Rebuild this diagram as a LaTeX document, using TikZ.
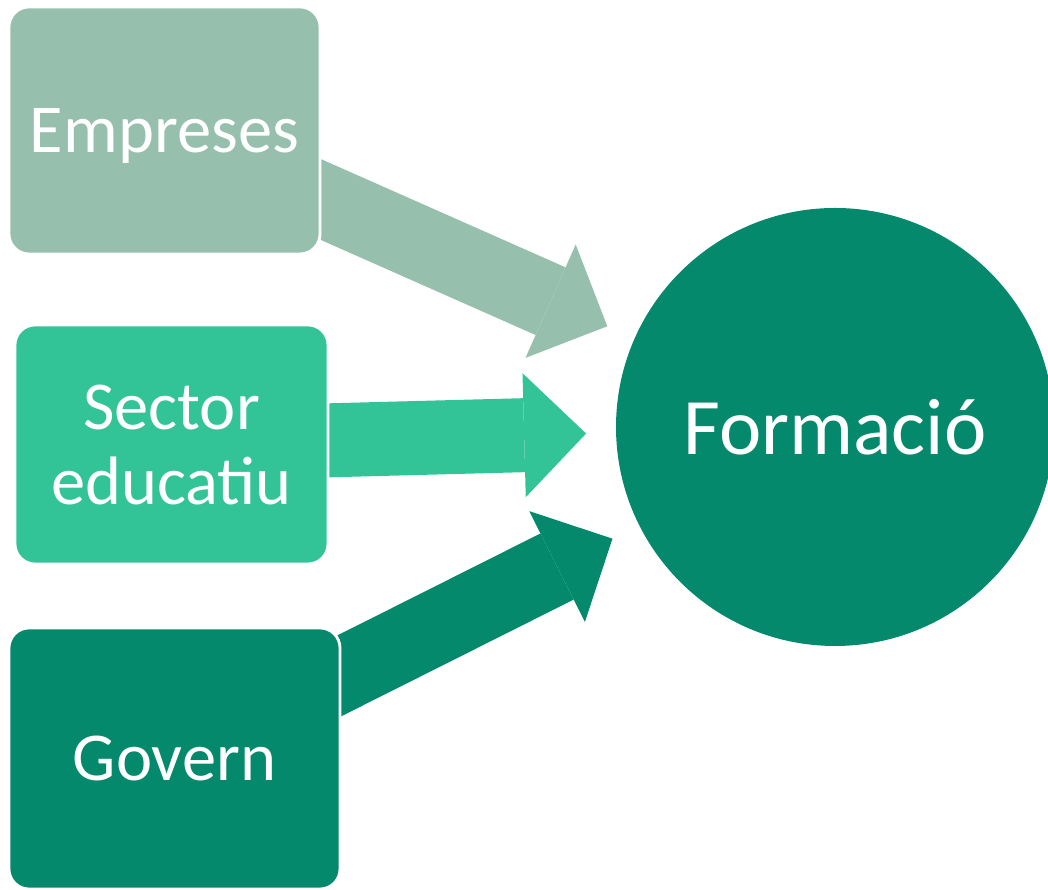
\documentclass[tikz,border=0pt]{standalone}
\usepackage{fontspec}
\setmainfont{Carlito}
\usetikzlibrary{arrows.meta,backgrounds}
\pgfdeclarelayer{edgelayer}
\pgfdeclarelayer{nodelayer}
\pgfsetlayers{background,edgelayer,nodelayer,main}
\definecolor{paleteal}{RGB}{150,191,174}
\definecolor{midteal}{RGB}{50,195,150}
\definecolor{deepteal}{RGB}{4,137,108}
\tikzstyle{box}=[shape=rectangle,rounded corners=0.2cm,draw=white,line width=0.8pt,inner sep=0pt,outer sep=0pt,text depth=0pt,text=white,align=center,font=\fontsize{19.5}{21.3}\selectfont]
\tikzstyle{hub}=[shape=circle,fill=deepteal,minimum size=4.38cm,inner sep=0pt,outer sep=0pt,text=white,font=\fontsize{22.8}{26}\selectfont]
\tikzstyle{feed}=[line width=0.74cm,-{Triangle[width=1.24cm,length=0.62cm,line width=0pt]},shorten <=-0.4cm,shorten >=0.3cm]

\begin{document}
\begin{tikzpicture}
	\useasboundingbox (0,0) rectangle (10.48,8.9);
	\begin{pgfonlayer}{nodelayer}
		\node [style=box,fill=paleteal,minimum width=3.11cm,minimum height=2.47cm] (empreses) at (1.645, 7.595) {Empreses};
		\node [style=box,fill=midteal,minimum width=3.13cm,minimum height=2.39cm] (sector) at (1.715, 4.455) {Sector\\educatiu};
		\node [style=box,fill=deepteal,minimum width=3.31cm,minimum height=2.61cm] (govern) at (1.745, 1.315) {Govern};
		\node [style=hub] (formacio) at (8.35, 4.63) {Formació};
	\end{pgfonlayer}
	\begin{pgfonlayer}{edgelayer}
		\draw[style=feed,draw=paleteal,fill=paleteal] (empreses) to (formacio);
		\draw[style=feed,draw=midteal,fill=midteal] (sector) to (formacio);
		\draw[style=feed,draw=deepteal,fill=deepteal] (govern) to (formacio);
	\end{pgfonlayer}
\end{tikzpicture}
\end{document}
